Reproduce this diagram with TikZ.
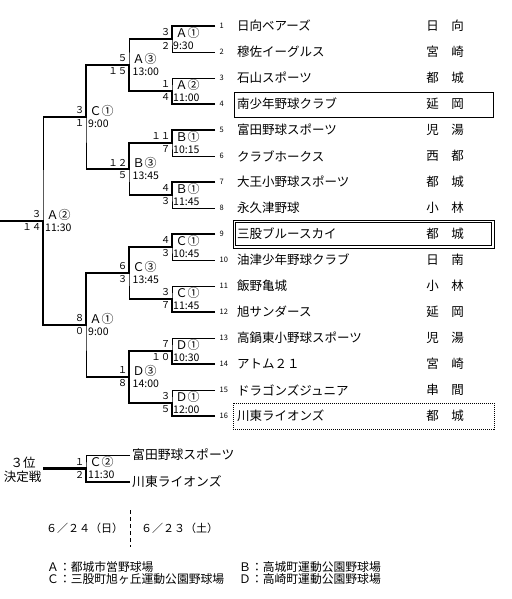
\documentclass[tikz,border=0pt]{standalone}
\usepackage{fontspec}
\setmainfont{Noto Sans CJK JP}
\tikzset{
  thinln/.style={line width=0.9pt},
  winln/.style={line width=2.8pt, line join=miter},
  tname/.style={anchor=west, inner sep=0pt, font=\fontsize{12.5}{13}\selectfont},
  tnum/.style={anchor=west, inner sep=0pt, font=\fontsize{7.5}{8}\selectfont},
  treg/.style={anchor=center, inner sep=0pt, font=\fontsize{12.5}{13}\selectfont},
  score/.style={anchor=east, inner sep=0pt, font=\fontsize{9.5}{10}\selectfont},
  mcode/.style={anchor=west, inner sep=0pt, font=\fontsize{12}{12}\selectfont},
  mtime/.style={anchor=west, inner sep=0pt, font=\fontsize{10.5}{11}\selectfont},
  plain/.style={inner sep=0pt, font=\fontsize{11.8}{12}\selectfont},
}
\newcommand\MatchLab[7]{%
  \node[score] (#1t) at ([xshift=-1.5pt,yshift=6.5pt]#2) {#3};
  \node[score] (#1b) at ([xshift=-1.5pt,yshift=-6.5pt]#2) {#4};
  \node[mcode] (#1c) at ([xshift=3.5pt,yshift=6.5pt]#2) {#5};
  \node[mtime] (#1h) at ([xshift=#7,yshift=-6.5pt]#2) {#6};
}
\begin{document}
\begin{tikzpicture}[x=1pt,y=-1pt]
\useasboundingbox (0,0) rectangle (511,599);

% team coordinates and labels
\foreach \k/\nm/\reg in {1/日向ベアーズ/日　向,2/穆佐イーグルス/宮　崎,3/石山スポーツ/都　城,4/南少年野球クラブ/延　岡,5/富田野球スポーツ/児　湯,6/クラブホークス/西　都,7/大王小野球スポーツ/都　城,8/永久津野球/小　林,9/三股ブルースカイ/都　城,10/油津少年野球クラブ/日　南,11/飯野亀城/小　林,12/旭サンダース/延　岡,13/高鍋東小野球スポーツ/児　湯,14/アトム２１/宮　崎,15/ドラゴンズジュニア/串　間,16/川東ライオンズ/都　城}{
  \coordinate (T\k) at (215,26*\k);
  \node[tnum] (N\k) at (219.5,26*\k) {\k};
  \node[tname] (L\k) at (237,26*\k) {\nm};
  \node[treg] (G\k) at (445,26*\k) {\reg};
}
\foreach \m in {1,...,8}{\coordinate (M\m) at (172,52*\m-13);}
\foreach \r in {1,...,4}{\coordinate (R\r) at (129,104*\r-39);}
\coordinate (S1) at (86,117);
\coordinate (S2) at (86,325);
\coordinate (F) at (43,221);
\coordinate (F0) at (0,221);

% thin skeleton
\foreach \a/\b/\m in {1/2/1,3/4/2,5/6/3,7/8/4,9/10/5,11/12/6,13/14/7,15/16/8}
  {\draw[thinln] (T\a) -| (M\m) |- (T\b);}
\foreach \a/\b/\r in {1/2/1,3/4/2,5/6/3,7/8/4}
  {\draw[thinln] (M\a) -| (R\r) |- (M\b);}
\draw[thinln] (R1) -| (S1) |- (R2);
\draw[thinln] (R3) -| (S2) |- (R4);
\draw[thinln] (S1) -| (F) |- (S2);

% winners
\draw[winln] (T1) -| (M1) -- (M1 -| R1);
\draw[winln] (T4) -| (M2) -| (R1) -| (S1) -- (S1 -| F);
\draw[winln] (T5) -| (M3) -| (R2) -- (R2 -| S1);
\draw[winln] (T7) -| (M4) -- (M4 -| R2);
\draw[winln] (T9) -| (M5) -| (R3) -| (S2) -| (F) -- (F0);
\draw[winln] (T12) -| (M6) -- (M6 -| R3);
\draw[winln] (T14) -| (M7) -| (R4);
\draw[winln] (T16) -| (M8) -| (R4) -- (R4 -| S2);

% match labels
\MatchLab{a}{M1}{３}{２}{Ａ①}{9:30}{1pt}
\MatchLab{b}{M2}{１}{４}{Ａ②}{11:00}{1pt}
\MatchLab{c}{M3}{１１}{７}{Ｂ①}{10:15}{1pt}
\MatchLab{d}{M4}{４}{３}{Ｂ①}{11:45}{1pt}
\MatchLab{e}{M5}{４}{３}{Ｃ①}{10:45}{1pt}
\MatchLab{f}{M6}{３}{７}{Ｃ①}{11:45}{1pt}
\MatchLab{g}{M7}{７}{１０}{Ｄ①}{10:30}{1pt}
\MatchLab{h}{M8}{３}{５}{Ｄ①}{12:00}{1pt}
\MatchLab{i}{R1}{５}{１５}{Ａ③}{13:00}{3.5pt}
\MatchLab{j}{R2}{１２}{５}{Ｂ③}{13:45}{3.5pt}
\MatchLab{k}{R3}{６}{３}{Ｃ③}{13:45}{3.5pt}
\MatchLab{l}{R4}{１}{８}{Ｄ③}{14:00}{3.5pt}
\MatchLab{n}{S1}{３}{１}{Ｃ①}{9:00}{2pt}
\MatchLab{o}{S2}{８}{０}{Ａ①}{9:00}{2pt}
\MatchLab{p}{F}{３}{１４}{Ａ②}{11:30}{2pt}

% boxes
\draw[thinln] (234,92) rectangle (493,117);
\draw[thinln] (233,220) rectangle (494,248);
\draw[line width=0.7pt] (235.8,222.8) rectangle (491.2,245.2);
\draw[line width=0.8pt, dash pattern=on 1pt off 1pt] (233,403) rectangle (494,429);

% third place match
\coordinate (Q1) at (130,455);
\coordinate (Q2) at (130,482);
\coordinate (P) at (86,468.5);
\coordinate (P0) at (43,468.5);
\draw[thinln] (Q1) -| (P) |- (Q2);
\draw[winln] (Q2) -| (P) -- (P0);
\MatchLab{q}{P}{１}{２}{Ｃ②}{11:30}{2pt}
\node[tname, font=\fontsize{12.8}{13}\selectfont] (q1) at (132,455) {富田野球スポーツ};
\node[tname, font=\fontsize{12.8}{13}\selectfont] (q2) at (132,482) {川東ライオンズ};
\node[plain, font=\fontsize{12.5}{13}\selectfont] (tp1) at (23,463) {３位};
\node[plain, font=\fontsize{12.5}{13}\selectfont] (tp2) at (22.5,477) {決定戦};

% dates
\node[plain, anchor=west, font=\fontsize{11}{11}\selectfont] (d1) at (46,528) {６／２４（日）};
\node[plain, anchor=west, font=\fontsize{11}{11}\selectfont] (d2) at (141,528) {６／２３（土）};
\draw[line width=0.9pt, dash pattern=on 4pt off 3pt] (130,510) -- (130,547);

% legend
\node[plain, anchor=west] (la) at (47,567) {Ａ：都城市営野球場};
\node[plain, anchor=west] (lc) at (47,579) {Ｃ：三股町旭ヶ丘運動公園野球場};
\node[plain, anchor=west] (lb) at (239,567) {Ｂ：高城町運動公園野球場};
\node[plain, anchor=west] (ld) at (239,579) {Ｄ：高崎町運動公園野球場};
\end{tikzpicture}
\end{document}
